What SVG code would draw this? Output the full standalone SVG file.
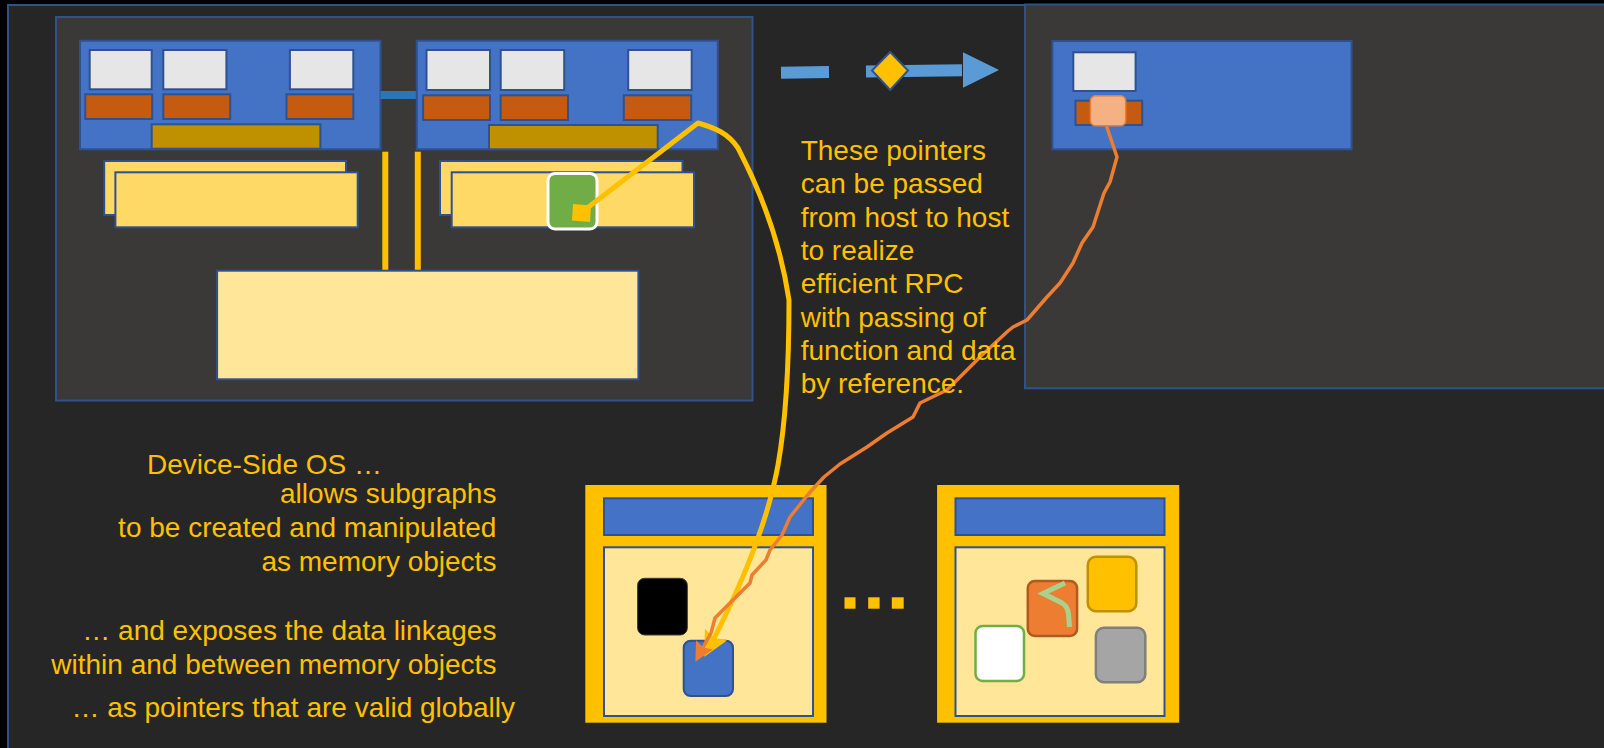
<svg xmlns="http://www.w3.org/2000/svg" width="1604" height="748" viewBox="0 0 1604 748">
<style>
.frame{fill:#262626;stroke:#2f528f;stroke-width:2}
.host{fill:#3a3938;stroke:#2f528f;stroke-width:2}
.blk{fill:#4472c4;stroke:#2f528f;stroke-width:2}
.wht{fill:#e7e6e6;stroke:#2f528f;stroke-width:2}
.org{fill:#c55a11;stroke:#2f528f;stroke-width:2}
.gld{fill:#bf9000;stroke:#2f528f;stroke-width:2}
.stk{fill:#ffd966;stroke:#2f528f;stroke-width:2}
.mem{fill:#ffe699;stroke:#2f528f;stroke-width:2}
.vline{stroke:#ffc000;stroke-width:6}
.moOuter{fill:#ffc000}
.txt{font-family:"Liberation Sans",Arial,sans-serif;font-size:28px;fill:#ffc000}
.r{text-anchor:end}
</style>
<defs>
<marker id="ahY" viewBox="0 0 10 10" refX="6" refY="5" markerWidth="5" markerHeight="5" orient="auto" markerUnits="strokeWidth">
<path d="M0,0 L10,5 L0,10 L1.5,5 Z" fill="#ffc000"/>
</marker>
<marker id="ahO" viewBox="0 0 10 10" refX="6" refY="5" markerWidth="5.5" markerHeight="5.5" orient="auto" markerUnits="strokeWidth">
<path d="M0,0 L10,5 L0,10 L1.5,5 Z" fill="#ed7d31"/>
</marker>
</defs>
<rect x="0" y="0" width="1604" height="748" fill="#000"/>
<rect class="frame" x="8" y="5" width="1700" height="800"/>

<g id="host1">
<rect class="host" x="56" y="17" width="696.5" height="383.5"/>
<rect class="blk" x="80" y="40.7" width="300.5" height="108.6"/>
<rect class="wht" x="89.7" y="50" width="62" height="39.3"/>
<rect class="wht" x="163.3" y="50" width="63.1" height="39.3"/>
<rect class="wht" x="289.9" y="50" width="63.4" height="39.3"/>
<rect class="org" x="85.3" y="94.3" width="66.9" height="24.7"/>
<rect class="org" x="163.3" y="94.3" width="66.9" height="24.7"/>
<rect class="org" x="286.5" y="94.3" width="66.8" height="24.7"/>
<rect class="gld" x="151.7" y="124.3" width="168.7" height="24.4"/>
<rect x="380.5" y="91" width="37" height="8" fill="#2e75b6"/>
<rect class="blk" x="416.8" y="40.7" width="301" height="108.6"/>
<rect class="wht" x="426.5" y="50" width="63.5" height="40"/>
<rect class="wht" x="500.7" y="50" width="63.5" height="40"/>
<rect class="wht" x="628.2" y="50" width="63.5" height="40"/>
<rect class="org" x="423.1" y="95.3" width="66.9" height="24.7"/>
<rect class="org" x="500.7" y="95.3" width="67.3" height="24.7"/>
<rect class="org" x="623.8" y="95.3" width="67.4" height="24.7"/>
<rect class="gld" x="489" y="125" width="168.7" height="24.3"/>
<rect class="stk" x="104.2" y="161" width="241.8" height="54"/>
<rect class="stk" x="115.4" y="172.3" width="242.3" height="55"/>
<rect class="stk" x="440" y="161" width="242.5" height="54"/>
<rect class="stk" x="451.7" y="172.3" width="242.3" height="55"/>
<rect x="548" y="173.5" width="49" height="55.5" rx="7" fill="#70ad47" stroke="#ffffff" stroke-width="3"/>
<line class="vline" x1="385.3" y1="151.7" x2="385.3" y2="271.7"/>
<line class="vline" x1="417.8" y1="151.7" x2="417.8" y2="271.7"/>
<rect class="mem" x="217.1" y="270.7" width="421.3" height="108.6"/>
</g>

<g id="host2">
<rect class="host" x="1025" y="4.5" width="700" height="383.8"/>
<rect class="blk" x="1052.4" y="41" width="299.2" height="108.3"/>
<rect class="wht" x="1073.3" y="52.3" width="62.3" height="38.7"/>
<rect class="org" x="1075.5" y="100.7" width="66.7" height="24.3"/>
<rect x="1090.4" y="95.7" width="35.3" height="30" rx="5" fill="#f4b183" stroke="#ed7d31" stroke-width="1.5"/>
</g>

<g id="memobj1">
<rect class="moOuter" x="585.3" y="485" width="241.2" height="237.7"/>
<rect class="blk" x="604" y="498.3" width="209" height="36.7"/>
<rect class="mem" x="604" y="547.3" width="209" height="168.7"/>
<rect x="637.6" y="578.3" width="49.7" height="56.7" rx="7" fill="#000" stroke="#3a3a3a" stroke-width="1"/>
<rect class="blk" x="683.7" y="640.7" width="49.3" height="55.3" rx="7"/>
</g>

<g id="ellipsis">
<rect x="844.5" y="597.3" width="11" height="11.4" fill="#ffc000"/>
<rect x="868.2" y="597.3" width="11.4" height="11.4" fill="#ffc000"/>
<rect x="891.8" y="597.3" width="11.9" height="11.4" fill="#ffc000"/>
</g>

<g id="memobj2">
<rect class="moOuter" x="937.1" y="485" width="242.1" height="237.7"/>
<rect class="blk" x="955.5" y="498.3" width="209" height="36.7"/>
<rect class="mem" x="955.5" y="547.3" width="209" height="168.7"/>
<rect x="1087.8" y="556.7" width="48.5" height="54.6" rx="8" fill="#ffc000" stroke="#bf9000" stroke-width="2.5"/>
<rect x="1027.8" y="581" width="49.3" height="55" rx="7" fill="#ed7d31" stroke="#ae5a21" stroke-width="2.5"/>
<rect x="975.5" y="626" width="48.5" height="55" rx="7" fill="#ffffff" stroke="#70ad47" stroke-width="2.5"/>
<rect x="1095.9" y="627.7" width="49.4" height="54.6" rx="8" fill="#a5a5a5" stroke="#7f7f7f" stroke-width="2.5"/>
<path d="M1065,583 L1043,593.5 L1062,603 Q1068,607 1068.5,614 L1069.5,627" fill="none" stroke="#a9d18e" stroke-width="5"/>
</g>

<g id="connectors">
<path d="M781,72.7 L962,70.3" fill="none" stroke="#5b9bd5" stroke-width="12" stroke-dasharray="48 37 200"/>
<polygon points="963,52.3 999,70 963,87.7" fill="#5b9bd5"/>
<polygon points="872,70.5 890.2,52 908,70.5 890.2,90" fill="#ffc000" stroke="#2f528f" stroke-width="2"/>
<path d="M582,212 L698,123 C715,128 728,133 738,148 C760,190 780,240 789,300 C789,360 786,420 778,465 C768,520 742,585 709,648" fill="none" stroke="#ffc000" stroke-width="5" stroke-linejoin="round" marker-end="url(#ahY)"/>
<polygon points="573,204 591,205.5 590,222 572,220.5" fill="#ffc000"/>
<polyline points="1106.5,126 1117,157 1110,182 1104,193 1093,227 1082,243 1073,263 1060,283 1047,297 1027,320 1013,327 1008,331 980,357 960,377 947,390 920,403 913,417 887,433 867,447 840,464 824,477 812,490 806,497 790,517 782,535 770,550 766,560 752,575 750,583 736,597 715,618 711,633 699,655" fill="none" stroke="#ed7d31" stroke-width="3.5" stroke-linejoin="round" marker-end="url(#ahO)"/>
</g>

<g id="label-pointers" class="txt">
<text x="800.7" y="160">These pointers</text>
<text x="800.7" y="193.3">can be passed</text>
<text x="800.7" y="226.6">from host to host</text>
<text x="800.7" y="260">to realize</text>
<text x="800.7" y="293.3">efficient RPC</text>
<text x="800.7" y="326.6">with passing of</text>
<text x="800.7" y="360">function and data</text>
<text x="800.7" y="393.3">by reference.</text>
</g>

<g id="label-os" class="txt">
<text x="147" y="474">Device-Side OS …</text>
<text class="r" x="496.4" y="502.7">allows subgraphs</text>
<text class="r" x="496.4" y="537.3">to be created and manipulated</text>
<text class="r" x="496.4" y="570.7">as memory objects</text>
<text class="r" x="496.4" y="640">… and exposes the data linkages</text>
<text class="r" x="496.4" y="674">within and between memory objects</text>
<text x="71.4" y="716.7">… as pointers that are valid globally</text>
</g>
</svg>
